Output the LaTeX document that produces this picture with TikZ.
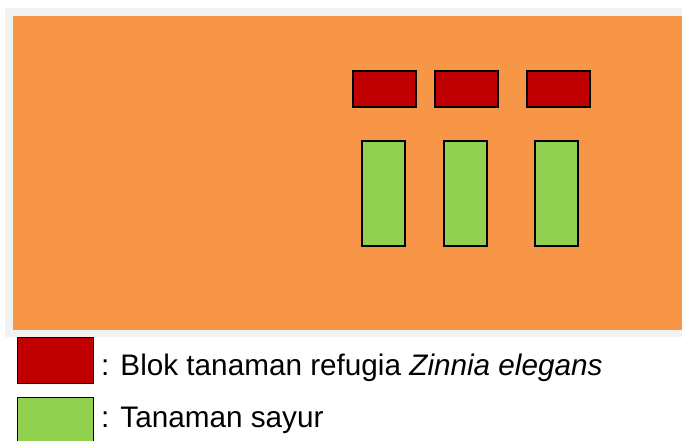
\documentclass[tikz,border=0pt]{standalone}
\usepackage{fontspec}
\setmainfont{Liberation Sans}
\definecolor{fieldorange}{HTML}{F79646}
\definecolor{frameg}{HTML}{F2F2F2}
\definecolor{refred}{HTML}{C00000}
\definecolor{vegreen}{HTML}{92D050}
\begin{document}
\begin{tikzpicture}[x=1pt,y=-1pt,
  refblock/.style={draw=black,line width=1.6pt,fill=refred,inner sep=0pt,anchor=north west,minimum width=63pt,minimum height=36pt},
  vegbed/.style={draw=black,line width=1.6pt,fill=vegreen,inner sep=0pt,anchor=north west,minimum width=43pt,minimum height=105pt},
  keybox/.style={draw=black,line width=1.3pt,inner sep=0pt,anchor=north west,minimum width=76pt,minimum height=46pt},
  keytext/.style={anchor=base west,inner sep=0pt,font=\fontsize{29.7}{34}\selectfont}]
\useasboundingbox (0,0) rectangle (682,441);
\clip (0,0) rectangle (682,441);
% field with its light frame
\fill[frameg] (5,8) rectangle (690,337);
\fill[fieldorange] (13,16) rectangle (690,330);
% refugia blocks
\node[refblock] (r1) at (352,70) {};
\node[refblock] (r2) at (434,70) {};
\node[refblock] (r3) at (526,70) {};
% vegetable beds
\node[vegbed] (v1) at (361,140) {};
\node[vegbed] (v2) at (443,140) {};
\node[vegbed] (v3) at (534,140) {};
% key
\node[keybox,fill=refred] (k1) at (17,337) {};
\node[keybox,fill=vegreen,minimum height=50pt] (k2) at (17,397) {};
\node[keytext] (t1) at (101,375) {: Blok tanaman refugia \textit{Zinnia elegans}};
\node[keytext] (t2) at (101,427) {: Tanaman sayur};
\end{tikzpicture}
\end{document}
